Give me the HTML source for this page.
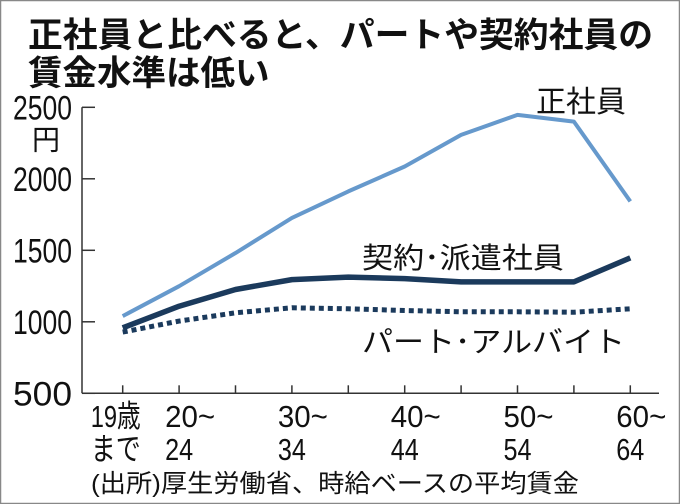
<!DOCTYPE html>
<html><head><meta charset="utf-8">
<style>
html,body{margin:0;padding:0;background:#fff;}
svg{display:block;}
text{font-family:"Liberation Sans","Noto Sans CJK JP",sans-serif;fill:#111;}
</style></head>
<body>
<svg width="680" height="504" viewBox="0 0 680 504">
<rect x="0.5" y="0.5" width="679" height="503" fill="#fff" stroke="#888" stroke-width="1.5"/>
<text x="28" y="47" font-size="34.5" font-weight="bold" textLength="625" lengthAdjust="spacingAndGlyphs">正社員と比べると、パートや契約社員の</text>
<text x="28" y="85" font-size="34.5" font-weight="bold">賃金水準は低い</text>
<g id="axes"></g>
<g id="series"></g>
<text x="536" y="112" font-size="30" textLength="90" lengthAdjust="spacingAndGlyphs">正社員</text>
<text x="362" y="268" font-size="29" textLength="202" lengthAdjust="spacingAndGlyphs">契約･派遣社員</text>
<text x="362" y="352" font-size="29" textLength="263" lengthAdjust="spacingAndGlyphs">パート･アルバイト</text>
<text x="91" y="492" font-size="25" textLength="488" lengthAdjust="spacingAndGlyphs">(出所)厚生労働省、時給ベースの平均賃金</text>
</svg>
<script>
const categories = ["19","20-24","25-29","30-34","35-39","40-44","45-49","50-54","55-59","60-64"];
const regular = [1040,1249,1481,1726,1912,2086,2307,2447,2400,1842];
const contract = [958,1109,1226,1295,1312,1302,1279,1279,1279,1447];
const part = [928,1005,1063,1098,1091,1079,1070,1070,1067,1091];
const yTicks = [500,1000,1500,2000,2500];
const xLabels = [["19歳","まで"],["20~","24"],null,["30~","34"],null,["40~","44"],null,["50~","54"],null,["60~","64"]];

const NS="http://www.w3.org/2000/svg";
const X0=122.7, DX=56.4, Y500=393.3, PX=71.5;
function xs(i){return X0+i*DX;}
function ys(v){return Y500-(v-500)/500*PX;}
function mk(tag,attrs,parent){const e=document.createElementNS(NS,tag);for(const k in attrs)e.setAttribute(k,attrs[k]);parent.appendChild(e);return e;}
const axes=document.getElementById('axes'), series=document.getElementById('series');

const yAxis=mk('line',{x1:82,y1:ys(2500),x2:82,y2:Y500,stroke:'#333','stroke-width':1.5},axes);


const xAxis=mk('line',{x1:82,y1:Y500,x2:659,y2:Y500,stroke:'#333','stroke-width':1.5},axes);



yTicks.forEach(v=>{
  const t=mk('line',{x1:82,y1:ys(v),x2:95,y2:ys(v),stroke:'#333','stroke-width':1.5},axes);
  
  
  const l=mk('text',{x:72,y:ys(v)+12,'font-size':34,'text-anchor':'end',textLength:59,lengthAdjust:'spacingAndGlyphs'},axes);
  l.textContent=String(v);
  
  
});
const unit=mk('text',{x:32,y:ys(2500)+42,'font-size':28},axes);
unit.textContent='円';



categories.forEach((c,i)=>{
  const t=mk('line',{x1:xs(i),y1:Y500,x2:xs(i),y2:Y500-8,stroke:'#333','stroke-width':1.5},axes);
  
  
  const lab=xLabels[i];
  if(lab){
    lab.forEach((s,j)=>{
      const w = /^\d\d$/.test(s) ? 28 : 50;
      const l=mk('text',{x:xs(i)-(i===0?32:14),y:427+j*33,'font-size':31,textLength:w,lengthAdjust:'spacingAndGlyphs'},axes);
      l.textContent=s;
      
      
    });
  }
});

function drawLine(vals,attrs,name){
  const p=mk('polyline',Object.assign({points:vals.map((v,i)=>xs(i)+','+ys(v)).join(' '),fill:'none','stroke-linejoin':'round'},attrs),series);
  
  
}
drawLine(regular,{stroke:'#6699cc','stroke-width':4},'line-regular-employees');
drawLine(contract,{stroke:'#1b3a5c','stroke-width':5.5},'line-contract-dispatch');
drawLine(part,{stroke:'#1b3a5c','stroke-width':5,'stroke-dasharray':'5 4'},'line-part-time');
</script>
</body></html>
